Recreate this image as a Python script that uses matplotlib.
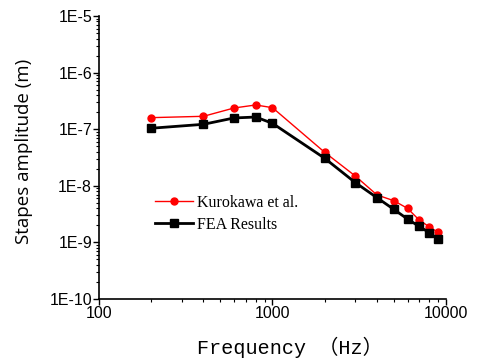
import matplotlib
matplotlib.use("Agg")
import matplotlib.pyplot as plt
from matplotlib.ticker import LogLocator, FixedLocator, NullFormatter

# Stapes amplitude vs. frequency
freq = [200, 400, 600, 800, 1000, 2000, 3000, 4000, 5000, 6000, 7000, 8000, 9000]
kurokawa = [1.60e-7, 1.69e-7, 2.37e-7, 2.68e-7, 2.40e-7, 3.9e-8, 1.49e-8,
            6.9e-9, 5.46e-9, 4.0e-9, 2.49e-9, 1.89e-9, 1.51e-9]
fea = [1.04e-7, 1.22e-7, 1.58e-7, 1.64e-7, 1.27e-7, 3.06e-8, 1.14e-8,
       6.17e-9, 3.84e-9, 2.59e-9, 1.92e-9, 1.49e-9, 1.15e-9]

y_ticks = [1e-10, 1e-9, 1e-8, 1e-7, 1e-6, 1e-5]
y_labels = ["1E-10", "1E-9", "1E-8", "1E-7", "1E-6", "1E-5"]
x_ticks = [100, 1000, 10000]
x_labels = ["100", "1000", "10000"]

fig = plt.figure(figsize=(4.82, 3.61), dpi=100)
ax = fig.add_axes([0.2054, 0.1717, 0.7199, 0.7840])

ax.plot(freq, kurokawa, color="red", lw=1.0, marker="o", ms=5,
        label="Kurokawa et al.")
ax.plot(freq, fea, color="black", lw=2.0, marker="s", ms=5.5,
        label="FEA Results")

ax.set_xscale("log")
ax.set_yscale("log")
ax.set_xlim(100, 10000)
ax.set_ylim(1e-10, 1e-5)

ax.spines["top"].set_visible(False)
ax.spines["right"].set_visible(False)
ax.spines["left"].set_linewidth(1.2)
ax.spines["bottom"].set_linewidth(1.2)

ax.xaxis.set_major_locator(FixedLocator(x_ticks))
ax.set_xticklabels(x_labels)
ax.yaxis.set_major_locator(FixedLocator(y_ticks))
ax.set_yticklabels(y_labels)
ax.xaxis.set_minor_locator(LogLocator(base=10, subs=range(2, 10)))
ax.yaxis.set_minor_locator(LogLocator(base=10, subs=range(2, 10)))
ax.xaxis.set_minor_formatter(NullFormatter())
ax.yaxis.set_minor_formatter(NullFormatter())
ax.tick_params(which="major", direction="out", length=4, width=1,
               labelsize=11.5, pad=1)
ax.tick_params(which="minor", direction="out", length=2, width=0.8)
for lab in ax.get_xticklabels() + ax.get_yticklabels():
    lab.set_family("Liberation Sans")

ax.set_ylabel("Stapes amplitude (m)", family="Open Sans", fontsize=13.5)
ax.yaxis.set_label_coords(-0.19, 0.52)
ax.set_xlabel("Frequency （Hz）", family=["Liberation Mono", "Noto Sans CJK SC"],
              fontsize=14.5)
ax.xaxis.set_label_coords(0.55, -0.135)

ax.legend(loc="upper left", bbox_to_anchor=(0.12, 0.42), frameon=False,
          prop={"family": "Liberation Serif", "size": 11.5},
          handlelength=2.4, handletextpad=0.2, labelspacing=0.4)

fig.savefig("out.png", dpi=100)
